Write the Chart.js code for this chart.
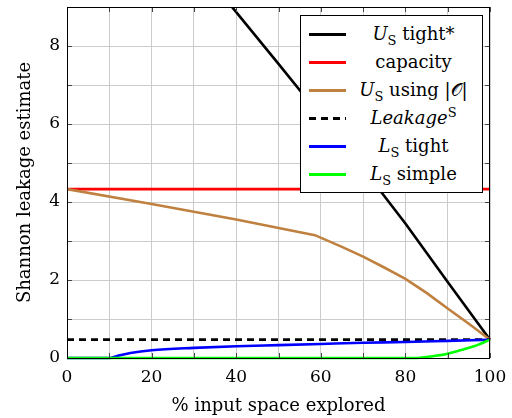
<!DOCTYPE html>
<html>
<head>
<meta charset="utf-8">
<script src="https://cdn.jsdelivr.net/npm/chart.js@4/dist/chart.umd.min.js"></script>
<style>
  body { margin: 0; background: #fff; }
  #wrap { position: relative; width: 512px; height: 418px; }
  #legend {
    position: absolute; left: 300px; top: 15px; width: 181px; height: 172px;
    border: 1px solid #000; background: #fff; box-sizing: content-box;
    font-family: "DejaVu Serif", serif; font-size: 18px; color: #000;
    padding-top: 4px;
  }
  .row { position: relative; height: 28px; line-height: 28px; }
  .swatch { position: absolute; left: 8px; top: 13px; width: 37px; height: 3px; }
  .label { position: absolute; left: 47px; right: 3px; text-align: center; white-space: nowrap; }
  .label sub, .label sup { font-size: 13px; line-height: 0; font-style: normal; }
  .cal { font-family: "DejaVu Sans", sans-serif; font-style: normal; }
</style>
</head>
<body>
<div id="wrap">
  <canvas id="chart" width="512" height="418"></canvas>
  <div id="legend"></div>
</div>
<script>
// % input space explored
var tightStarX = [35, 40, 50, 60, 70, 80, 90, 100];
var tightStarY = [9.53, 8.87, 7.54, 6.2, 4.86, 3.45, 1.95, 0.47];

var capacityX = [0, 100];
var capacityY = [4.33, 4.33];

var usingOX = [0, 20, 40, 58.6, 65, 70, 75, 80, 85, 90, 95, 100];
var usingOY = [4.33, 3.95, 3.55, 3.15, 2.85, 2.6, 2.32, 2.03, 1.67, 1.27, 0.88, 0.47];

var leakageX = [0, 100];
var leakageY = [0.47, 0.47];

var tightX = [0, 10, 12, 15, 20, 30, 40, 50, 60, 70, 80, 90, 100];
var tightY = [0, 0, 0.06, 0.13, 0.2, 0.26, 0.3, 0.33, 0.36, 0.39, 0.41, 0.44, 0.47];

var simpleX = [0, 82, 86, 90, 94, 97, 100];
var simpleY = [0, 0, 0.04, 0.11, 0.23, 0.33, 0.47];

var xTicks = [0, 20, 40, 60, 80, 100];
var yTicks = [0, 2, 4, 6, 8];

var legendLabels = [
    '<i>U</i><sub>S</sub> tight*',
    'capacity',
    '<i>U</i><sub>S</sub> using |<span class="cal">𝒪</span>|',
    '<i>Leakage</i><sup>S</sup>',
    '<i>L</i><sub>S</sub> tight',
    '<i>L</i><sub>S</sub> simple'
];

function points(xs, ys) {
    return xs.map(function (x, i) { return { x: x, y: ys[i] }; });
}

var serif = '"DejaVu Serif", serif';

var series = [
    { data: points(tightStarX, tightStarY), color: '#000000', dash: [] },
    { data: points(capacityX, capacityY), color: '#ff0000', dash: [] },
    { data: points(usingOX, usingOY), color: '#bf8040', dash: [] },
    { data: points(leakageX, leakageY), color: '#000000', dash: [7, 5] },
    { data: points(tightX, tightY), color: '#0000ff', dash: [], curve: true },
    { data: points(simpleX, simpleY), color: '#00ff00', dash: [], curve: true }
];

var frame = {
    id: 'frame',
    afterDatasetsDraw: function (chart) {
        var a = chart.chartArea, ctx = chart.ctx;
        var xs = chart.scales.x, ys = chart.scales.y;
        ctx.save();
        ctx.strokeStyle = '#444';
        ctx.lineWidth = 1;
        ctx.beginPath();
        xs.ticks.forEach(function (t) {
            var px = Math.round(xs.getPixelForValue(t.value)) + 0.5;
            ctx.moveTo(px, a.bottom); ctx.lineTo(px, a.bottom - 5);
            ctx.moveTo(px, a.top); ctx.lineTo(px, a.top + 5);
        });
        ys.ticks.forEach(function (t) {
            var py = Math.round(ys.getPixelForValue(t.value)) + 0.5;
            ctx.moveTo(a.left, py); ctx.lineTo(a.left + 5, py);
            ctx.moveTo(a.right, py); ctx.lineTo(a.right - 5, py);
        });
        ctx.stroke();
        ctx.strokeStyle = '#000';
        ctx.strokeRect(a.left + 0.5, a.top + 0.5, a.right - a.left - 1, a.bottom - a.top);
        ctx.restore();
    }
};

new Chart(document.getElementById('chart'), {
    type: 'line',
    data: {
        datasets: series.map(function (s, i) {
            return {
                data: s.data,
                borderColor: s.color,
                borderWidth: 2.6,
                borderDash: s.dash,
                pointRadius: 0,
                tension: 0,
                cubicInterpolationMode: s.curve ? 'monotone' : 'default',
                fill: false,
                clip: { left: 0, top: 0, right: 2, bottom: 2 },
                order: series.length - i
            };
        })
    },
    plugins: [frame],
    options: {
        responsive: false,
        animation: false,
        layout: { padding: { top: 7, right: 22, left: 0, bottom: 0 } },
        plugins: { legend: { display: false }, tooltip: { enabled: false } },
        scales: {
            x: {
                type: 'linear', min: 0, max: 100,
                afterFit: function (scale) {
                    scale.height = 60;
                    scale.paddingLeft = 0;
                    scale.paddingRight = 0;
                },
                ticks: {
                    stepSize: 10, padding: 9, color: '#000', maxRotation: 0,
                    font: { family: serif, size: 17 },
                    callback: function (v) { return xTicks.indexOf(v) >= 0 ? String(v) : ''; }
                },
                grid: { color: '#cccccc', drawTicks: false },
                border: { display: false },
                title: {
                    display: true, text: '% input space explored', color: '#000',
                    font: { family: serif, size: 18 }, padding: { top: 0, bottom: 1 }
                }
            },
            y: {
                min: 0, max: 9,
                afterFit: function (scale) {
                    scale.width = 67;
                    scale.paddingTop = 0;
                    scale.paddingBottom = 0;
                },
                ticks: {
                    stepSize: 1, padding: 7, color: '#000',
                    font: { family: serif, size: 17 },
                    callback: function (v) { return yTicks.indexOf(v) >= 0 ? String(v) : ''; }
                },
                grid: { color: '#cccccc', drawTicks: false },
                border: { display: false },
                title: {
                    display: true, text: 'Shannon leakage estimate', color: '#000',
                    font: { family: serif, size: 18 }, padding: { top: 15, bottom: 0 }
                }
            }
        }
    }
});

var legend = document.getElementById('legend');
series.forEach(function (s, i) {
    var row = document.createElement('div');
    row.className = 'row';
    var sw = document.createElement('div');
    sw.className = 'swatch';
    if (s.dash.length) {
        sw.style.background = 'repeating-linear-gradient(90deg, #000 0 7px, transparent 7px 12px)';
    } else {
        sw.style.background = s.color;
    }
    var lb = document.createElement('div');
    lb.className = 'label';
    lb.innerHTML = legendLabels[i];
    row.appendChild(sw);
    row.appendChild(lb);
    legend.appendChild(row);
});
</script>
</body>
</html>
